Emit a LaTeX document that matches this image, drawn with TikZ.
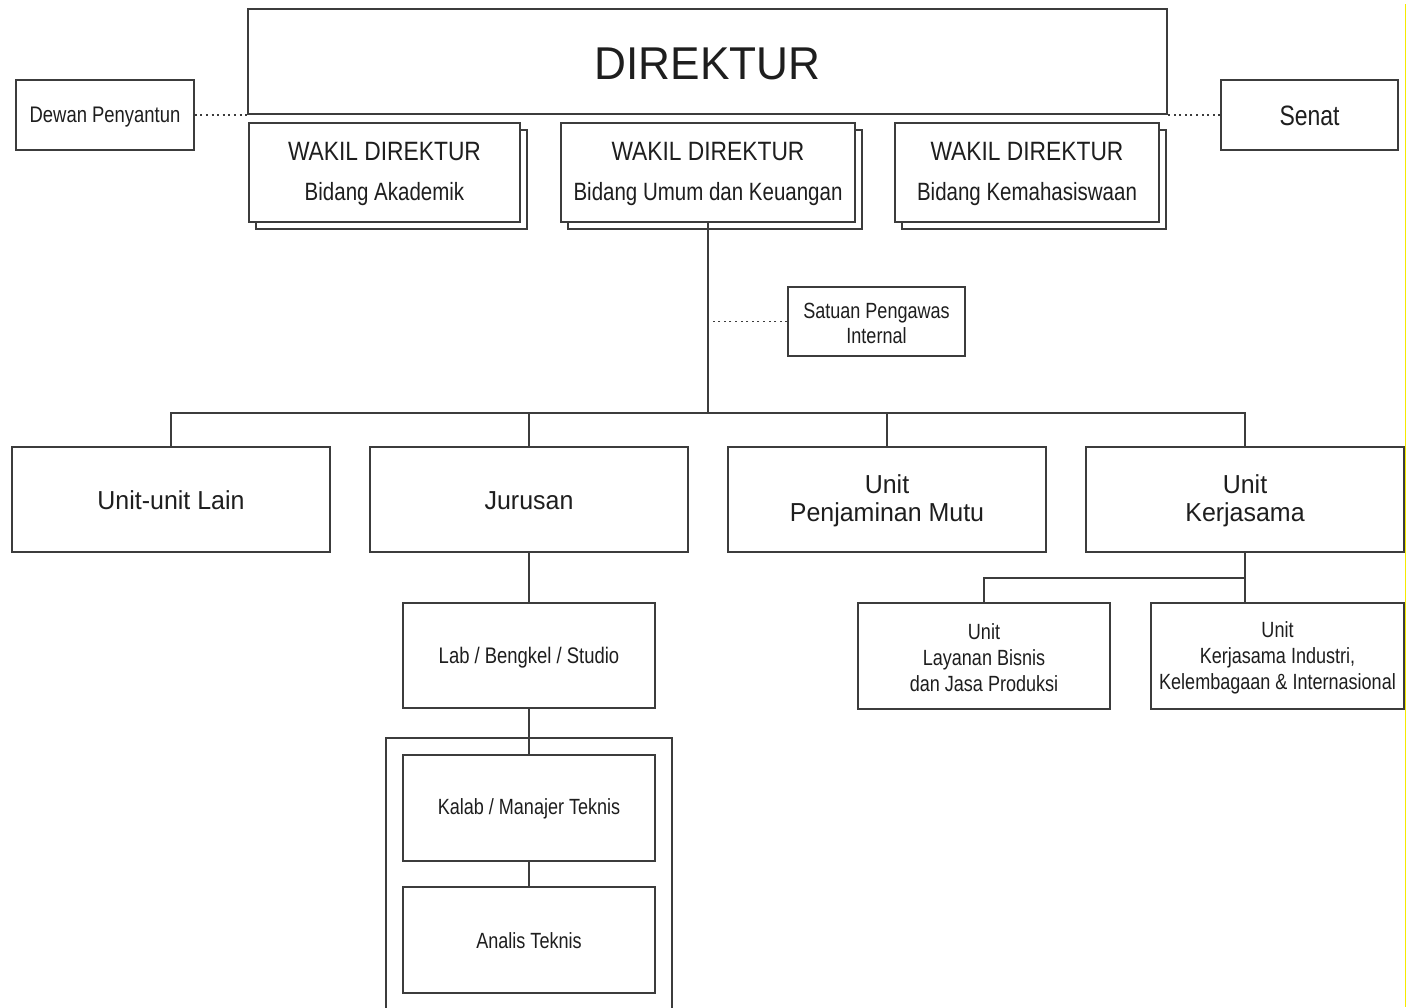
\documentclass[tikz,border=0pt]{standalone}
\usepackage{fontspec}
\setmainfont{Liberation Sans}
\newfontfamily\fBig[FakeStretch=0.96]{Liberation Sans}
\newfontfamily\fReg[FakeStretch=0.96]{Liberation Sans}
\newfontfamily\fWak[FakeStretch=0.86]{Liberation Sans}
\newfontfamily\fNar[FakeStretch=0.82]{Liberation Sans}
\newcommand\szz[1]{\fontsize{#1}{#1}\selectfont}
\usetikzlibrary{shadows}
\definecolor{ln}{HTML}{3C3C3C}
\definecolor{tx}{HTML}{1E1E1E}
\definecolor{ylw}{HTML}{F5EA00}
\begin{document}
\begin{tikzpicture}[x=1pt,y=-1pt,
  bx/.style 2 args={draw=ln, line width=1.4pt, fill=white, inner sep=0pt,
    minimum width=#1pt, minimum height=#2pt},
  shd/.style={copy shadow={shadow xshift=7pt, shadow yshift=-7pt, draw=ln, fill=white}},
  txt/.style={anchor=base, inner sep=0pt, text=tx},
  conn/.style={draw=ln, line width=1.4pt},
  dotl/.style={draw=ln, line width=1.5pt, dash pattern=on 2pt off 3.6pt}]
\fill[white] (0,0) rectangle (1413,1007);
\useasboundingbox (0,0) rectangle (1413,1007);

% top level
\node[bx={919}{105}] (dir) at (707.5,61.5) {};
\node[txt] (tdir) at (707.5,79) {\fBig\szz{46}DIREKTUR};

\node[bx={178}{70}] (dewan) at (105,115) {};
\node[txt] (tdewan) at (105,122) {\fNar\szz{22.5}Dewan Penyantun};

\node[bx={177}{70}] (senat) at (1309.5,115) {};
\node[txt] (tsenat) at (1309.5,125) {\fNar\szz{28}Senat};

\draw[dotl] (dewan.east) -- (dewan.east -| dir.west);
\draw[dotl] (senat.west) -- (senat.west -| dir.east);

% wakil direktur
\node[bx={271}{99}, shd] (wd1) at (384.5,172.5) {};
\node[bx={294}{99}, shd] (wd2) at (708,172.5) {};
\node[bx={264}{99}, shd] (wd3) at (1027,172.5) {};
\node[txt] (tw1a) at (384.5,160) {\fWak\szz{26.5}WAKIL DIREKTUR};
\node[txt] (tw1b) at (384.5,200) {\fNar\szz{25}Bidang Akademik};
\node[txt] (tw2a) at (708,160) {\fWak\szz{26.5}WAKIL DIREKTUR};
\node[txt] (tw2b) at (708,200) {\fNar\szz{25}Bidang Umum dan Keuangan};
\node[txt] (tw3a) at (1027,160) {\fWak\szz{26.5}WAKIL DIREKTUR};
\node[txt] (tw3b) at (1027,200) {\fNar\szz{25}Bidang Kemahasiswaan};

% satuan pengawas internal
\node[bx={177}{69}] (spi) at (876.5,321.5) {};
\node[txt] (tspi1) at (876.5,318) {\fNar\szz{22}Satuan Pengawas};
\node[txt] (tspi2) at (876.5,343) {\fNar\szz{22}Internal};

% second level
\node[bx={318}{105}] (lain) at (171,499.5) {};
\node[bx={318}{105}] (jur) at (529,499.5) {};
\node[bx={318}{105}] (upm) at (887,499.5) {};
\node[bx={318}{105}] (ukj) at (1245,499.5) {};
\node[txt] (tlain) at (171,509) {\fReg\szz{26}Unit-unit Lain};
\node[txt] (tjur) at (529,509) {\fReg\szz{26}Jurusan};
\node[txt] (tupm1) at (887,493) {\fReg\szz{26}Unit};
\node[txt] (tupm2) at (887,521) {\fReg\szz{26}Penjaminan Mutu};
\node[txt] (tukj1) at (1245,493) {\fReg\szz{26}Unit};
\node[txt] (tukj2) at (1245,521) {\fReg\szz{26}Kerjasama};

% connectors top
\coordinate (busM) at (708,413);
\draw[conn] (wd2.south) -- (busM);
\draw[dotl] (spi.west) -- (spi.west -| wd2.south);
\draw[conn] (lain.north) |- (busM) -| (ukj.north);
\draw[conn] (jur.north) -- (jur.north |- busM);
\draw[conn] (upm.north) -- (upm.north |- busM);

% jurusan branch
\node[bx={286}{300}] (grp) at (529,888) {};
\node[bx={252}{105}] (lab) at (529,655.5) {};
\node[txt] (tlab) at (529,663) {\fNar\szz{22.5}Lab / Bengkel / Studio};
\node[bx={252}{106}] (kalab) at (529,808) {};
\node[txt] (tkalab) at (529,814) {\fNar\szz{22}Kalab / Manajer Teknis};
\node[bx={252}{106}] (analis) at (529,940) {};
\node[txt] (tanalis) at (529,948) {\fNar\szz{22}Analis Teknis};
\draw[conn] (jur.south) -- (lab.north);
\draw[conn] (lab.south) -- (kalab.north);
\draw[conn] (kalab.south) -- (analis.north);

% kerjasama branch
\node[bx={252}{106}] (ulb) at (984,656) {};
\node[bx={253}{106}] (uki) at (1277.5,656) {};
\node[txt] (tulb1) at (984,639) {\fNar\szz{22}Unit};
\node[txt] (tulb2) at (984,665) {\fNar\szz{22}Layanan Bisnis};
\node[txt] (tulb3) at (984,691) {\fNar\szz{22}dan Jasa Produksi};
\node[txt] (tuki1) at (1277.5,637) {\fNar\szz{22}Unit};
\node[txt] (tuki2) at (1277.5,663) {\fNar\szz{22}Kerjasama Industri,};
\node[txt] (tuki3) at (1277.5,689) {\fNar\szz{22}Kelembagaan \& Internasional};
\coordinate (kj) at (1245,578);
\draw[conn] (ukj.south) -- (ukj.south |- uki.north);
\draw[conn] (ulb.north) |- (kj);

% edge line
\draw[ylw, line width=1.3pt] (1405.5,4) -- (1405.5,1007);
\end{tikzpicture}
\end{document}
